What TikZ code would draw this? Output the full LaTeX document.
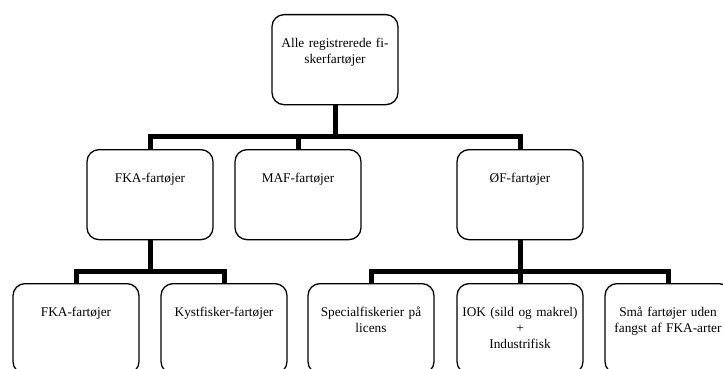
\documentclass[tikz,border=0pt]{standalone}
\usepackage{fontspec}
\setmainfont{Liberation Serif}
\usetikzlibrary{positioning}

\tikzset{
  box/.style={draw,rounded corners=12pt,line width=1.3pt,anchor=north,
    minimum width=126pt,text width=120pt,align=center,inner sep=0pt,
    text height=33pt,text depth=57pt,font=\fontsize{13.3}{16}\selectfont},
  link/.style={line width=5pt,line join=miter}
}

\begin{document}
\begin{tikzpicture}[x=1pt,y=-1pt]
\useasboundingbox (0,0) rectangle (723,369);
\node[box] (root) at (335,14) {Alle registrerede fi-\\skerfartøjer};
\node[box] (fka) at (150,149) {FKA-fartøjer};
\node[box] (maf) at (298,149) {MAF-fartøjer};
\node[box] (of) at (520,149) {ØF-fartøjer};
\draw[link] (root.south) -- ++(0,31) -| (fka.north);
\draw[link] (root.south) -- ++(0,31) -| (maf.north);
\draw[link] (root.south) -- ++(0,31) -| (of.north);
\node[box] (fka2) at (76,283) {FKA-fartøjer};
\node[box] (kyst) at (224,283) {Kystfisker-fartøjer};
\draw[link] (fka.south) -- ++(0,31) -| (fka2.north);
\draw[link] (fka.south) -- ++(0,31) -| (kyst.north);
\node[box] (spec) at (371,283) {Specialfiskerier på\\licens};
\node[box] (iok) at (520,283) {IOK (sild og makrel)\\+\\Industrifisk};
\node[box] (sma) at (668,283) {Små fartøjer uden\\fangst af FKA-arter};
\draw[link] (of.south) -- ++(0,31) -| (spec.north);
\draw[link] (of.south) -- ++(0,31) -| (iok.north);
\draw[link] (of.south) -- ++(0,31) -| (sma.north);
\end{tikzpicture}
\end{document}
